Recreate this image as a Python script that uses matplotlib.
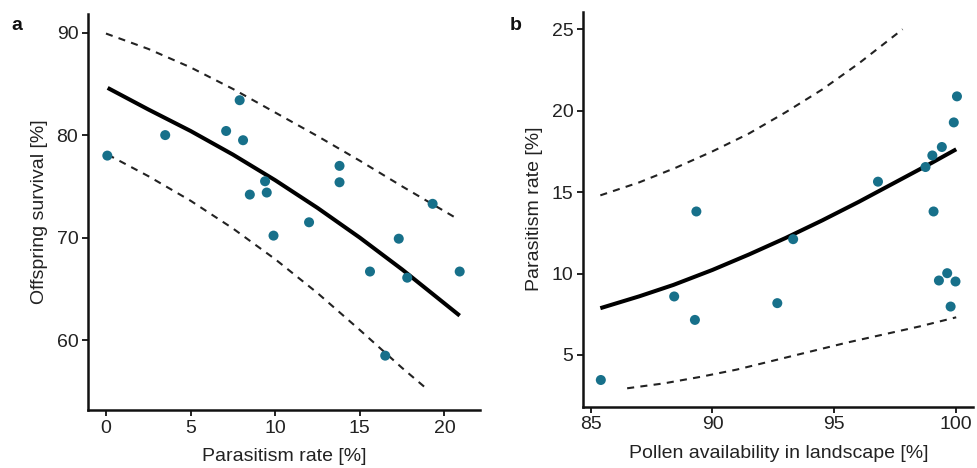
import matplotlib
matplotlib.use("Agg")
import matplotlib.pyplot as plt

plt.rcParams['font.family'] = ['Liberation Sans', 'DejaVu Sans']

# Panel a: parasitism rate vs offspring survival
a_x = [0.08, 3.5, 7.1, 7.9, 8.1, 8.5, 9.4, 9.5, 9.9, 12.0, 13.8, 13.8, 15.6, 16.5, 17.3, 17.8, 19.3, 20.9]
a_y = [78.0, 80.0, 80.4, 83.4, 79.5, 74.2, 75.5, 74.4, 70.2, 71.5, 77.0, 75.4, 66.7, 58.5, 69.9, 66.1, 73.3, 66.7]
a_fit_x = [0.1, 2.5, 5.0, 7.5, 10.0, 12.5, 15.0, 17.5, 20.9]
a_fit_y = [84.6, 82.5, 80.4, 78.1, 75.6, 72.9, 70.0, 66.9, 62.4]
a_up_x = [0.0, 2.5, 5.0, 7.5, 10.0, 12.5, 15.0, 17.5, 20.7]
a_up_y = [89.9, 88.4, 86.6, 84.5, 82.2, 79.9, 77.5, 75.0, 71.9]
a_lo_x = [0.1, 2.5, 5.0, 7.5, 10.0, 12.5, 15.0, 17.5, 19.0]
a_lo_y = [78.1, 76.0, 73.6, 70.9, 67.9, 64.6, 61.0, 57.3, 55.2]
a_xticks = [0, 5, 10, 15, 20]
a_yticks = [60, 70, 80, 90]

# Panel b: pollen availability vs parasitism rate
b_x = [85.42, 88.43, 89.28, 89.34, 92.66, 93.31, 96.79, 98.74, 99.02, 99.07, 99.41, 99.29, 99.63, 99.77, 99.9, 99.97, 100.03]
b_y = [3.46, 8.59, 7.15, 13.81, 8.18, 12.11, 15.64, 16.54, 17.25, 13.81, 17.77, 9.57, 10.02, 7.97, 19.28, 9.51, 20.88]
b_fit_x = [85.4, 87.0, 88.4, 90.0, 91.5, 93.0, 94.5, 96.0, 97.5, 99.0, 100.0]
b_fit_y = [7.87, 8.6, 9.3, 10.22, 11.17, 12.18, 13.26, 14.4, 15.6, 16.8, 17.63]
b_up_x = [85.4, 87.0, 88.5, 90.0, 91.5, 93.0, 94.5, 96.0, 97.8]
b_up_y = [14.8, 15.6, 16.5, 17.5, 18.6, 19.9, 21.3, 22.9, 25.0]
b_lo_x = [86.5, 88.0, 89.5, 91.0, 92.5, 94.0, 95.5, 97.0, 98.5, 100.0]
b_lo_y = [2.95, 3.25, 3.65, 4.1, 4.65, 5.2, 5.75, 6.25, 6.75, 7.31]
b_xticks = [85, 90, 95, 100]
b_yticks = [5, 10, 15, 20, 25]

pt_color = '#17708a'
txt_color = '#222222'

fig = plt.figure(figsize=(9.77, 4.68), dpi=100)
ax1 = fig.add_axes([0.0901, 0.1239, 0.4012, 0.8461])
ax2 = fig.add_axes([0.597, 0.131, 0.3992, 0.844])

def style(ax):
    for s in ['top', 'right']:
        ax.spines[s].set_visible(False)
    for s in ['left', 'bottom']:
        ax.spines[s].set_linewidth(1.8)
        ax.spines[s].set_color('#111111')
    ax.tick_params(direction='out', length=4, width=1.3, labelsize=14,
                   labelcolor=txt_color, color='#111111', pad=3)

for ax, x, y, fx, fy, ux, uy, lx, ly in [
        (ax1, a_x, a_y, a_fit_x, a_fit_y, a_up_x, a_up_y, a_lo_x, a_lo_y),
        (ax2, b_x, b_y, b_fit_x, b_fit_y, b_up_x, b_up_y, b_lo_x, b_lo_y)]:
    ax.plot(ux, uy, color='#222222', lw=1.5, dashes=(3.4, 3.0), zorder=2)
    ax.plot(lx, ly, color='#222222', lw=1.5, dashes=(3.4, 3.0), zorder=2)
    ax.plot(fx, fy, color='black', lw=2.9, solid_capstyle='butt',
            solid_joinstyle='round', zorder=3)
    ax.scatter(x, y, s=52, color=pt_color, edgecolors='none', zorder=4)
    style(ax)

ax1.set_xlim(-1.06, 22.1)
ax1.set_ylim(53.2, 91.8)
ax1.set_xticks(a_xticks)
ax1.set_yticks(a_yticks)
ax1.set_xlabel('Parasitism rate [%]', fontsize=14, color=txt_color, labelpad=8)
ax1.set_ylabel('Offspring survival [%]', fontsize=14, color=txt_color, labelpad=6)

ax2.set_xlim(84.7, 100.7)
ax2.set_ylim(1.82, 26.08)
ax2.set_xticks(b_xticks)
ax2.set_yticks(b_yticks)
ax2.set_xlabel('Pollen availability in landscape [%]', fontsize=14, color=txt_color, labelpad=8)
ax2.set_ylabel('Parasitism rate [%]', fontsize=14, color=txt_color, labelpad=6)

fig.text(0.012, 0.935, 'a', fontsize=14, fontweight='bold', color='#111111')
fig.text(0.522, 0.935, 'b', fontsize=14, fontweight='bold', color='#111111')

fig.savefig('out.png', dpi=100)
